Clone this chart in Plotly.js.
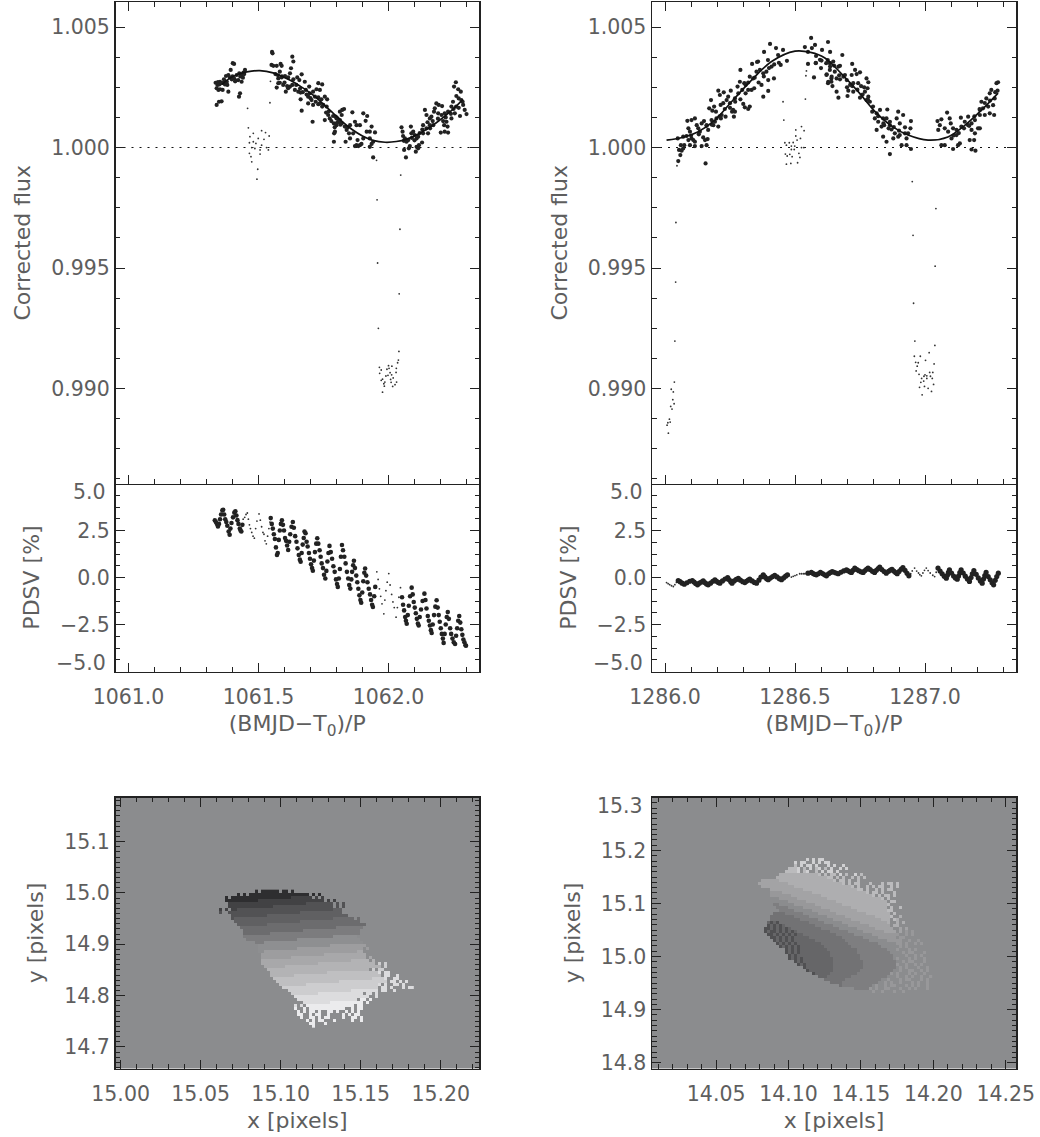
<!DOCTYPE html>
<html><head><meta charset="utf-8">
<script src="https://cdn.plot.ly/plotly-3.0.1.min.js"></script>
<style>html,body{margin:0;padding:0;background:#fff}</style></head>
<body><div id="chart" style="width:1040px;height:1137px"></div>
<script>
const cycleL = 1061, cycleR = 1286;
// [phase - cycle, (flux-1) in parts per thousand]
const fluxBigL = [[.335,2.69],[.344,2.72],[.352,2.73],[.342,2.60],[.349,2.62],[.358,2.67],[.365,2.69],[.339,2.46],[.346,2.39],[.352,2.42],[.362,2.39],[.371,2.62],[.378,2.73],[.367,2.83],[.375,2.97],[.384,3.01],[.393,3.22],[.401,3.50],[.406,3.47],[.390,2.91],[.397,2.83],[.406,2.87],[.416,3.01],[.426,3.08],[.435,3.01],[.442,3.11],[.448,3.22],[.413,2.78],[.422,2.80],[.435,2.73],[.384,2.32],[.429,2.25],[.425,2.11],[.339,1.77],[.348,1.90],[.358,1.92],
[.552,3.97],[.554,3.91],[.630,3.77],[.634,3.57],[.625,3.29],[.621,3.08],[.550,3.43],[.557,3.39],[.570,3.39],[.585,3.47],[.589,3.39],[.582,3.15],[.576,2.87],[.589,2.91],[.602,2.97],[.614,2.91],[.634,2.83],[.649,2.91],[.666,3.04],[.657,2.80],[.576,2.67],[.582,2.69],[.570,2.49],[.595,2.60],[.605,2.32],[.614,2.46],[.621,2.53],[.640,2.39],[.653,2.32],[.662,2.28],[.678,2.73],[.695,2.53],[.682,2.39],[.697,2.25],[.710,2.32],[.723,2.42],[.736,2.39],[.730,2.67],[.745,2.62],[.662,2.00],[.691,2.11],[.704,1.97],[.717,2.11],[.730,2.08],[.742,2.00],[.755,2.11],[.764,2.00],[.736,1.83],[.749,1.77],[.762,1.70],[.691,1.83],[.710,1.77],[.666,1.53],[.708,1.07],[.755,1.14],[.768,1.35],[.774,1.21],[.787,1.31],[.800,1.21],[.813,1.49],[.806,1.07],[.793,.84],[.791,.59],[.790,.24],
[.797,1.28],[.804,1.21],[.813,1.14],[.820,1.35],[.822,1.56],[.829,1.60],[.809,1.07],[.820,1.00],[.800,.93],[.794,.66],[.832,.87],[.843,.84],[.852,.93],[.861,1.46],[.871,1.07],[.877,.93],[.890,.93],[.903,1.42],[.918,1.31],[.912,1.11],[.848,.59],[.839,.73],[.835,.24],[.852,.38],[.864,.59],[.881,.31],[.871,.06],[.877,.10],[.884,.06],[.890,.10],[.896,.15],[.903,.38],[.916,.66],[.928,.66],[.935,.87],[.948,.63],[.928,.38],[.941,.24],[.935,.15],[.928,.03],[.941,-.41],
[1.050,.84],[1.054,.66],[1.056,.48],[1.059,.28],[1.063,.38],[1.069,.24],[1.076,.31],[1.086,.87],[1.088,.59],[1.095,.66],[1.101,.52],[1.082,.06],[1.078,-.03],[1.060,-.10],[1.067,-.41],[1.108,.38],[1.114,.45],[1.129,.21],[1.117,.10],[1.108,.03],[1.105,-.17],[1.114,-.03],[1.133,.93],[1.140,1.56],[1.146,1.35],[1.159,1.21],[1.165,1.28],[1.178,1.63],[1.184,1.83],[1.193,1.77],[1.206,1.72],[1.175,1.49],[1.191,1.42],[1.204,1.35],[1.216,1.42],[1.229,1.49],[1.242,1.70],[1.248,1.90],[1.259,2.71],[1.252,2.53],[1.268,2.42],[1.278,2.32],[1.261,2.14],[1.270,2.04],[1.280,1.97],[1.287,1.77],[1.293,1.56],[1.300,1.39],[1.275,1.31],[1.255,1.42],[1.242,1.21],[1.223,1.07],[1.214,.93],[1.227,.87],[1.216,.66],[1.201,.62],[1.229,.62],[1.159,.93],[1.146,.80],[1.133,.59],[1.152,.59],[1.172,.93],
[.37,2.75],[.38,2.6],[.40,2.95],[.41,2.75],[.43,2.95],[.44,2.9],[.445,3.05],[.565,3.05],[.575,3.0],[.59,2.95],[.60,2.7],[.61,2.55],[.63,2.6],[.645,2.6],[.66,2.45],[.67,2.3],[.685,2.2],[.70,2.05],[.72,1.9],[.73,1.8],[.745,1.7],[.76,1.45],[.77,1.5],[.78,1.1],[.79,1.0],[.80,1.0],[.815,.95],[1.09,.4],[1.10,.3],[1.12,.6],[1.13,.75],[1.15,1.05],[1.16,.8],[1.17,1.1],[1.19,1.2],[1.21,1.1],[1.22,1.25],[1.24,1.4],[1.25,1.6],[1.26,1.7],[1.27,1.65],[1.285,1.9]];
const fluxSmallL = [[.458,1.63],[.546,2.75],[.544,1.86],[.461,.82],[.480,.59],[.512,.70],[.527,.62],[.541,.48],[.467,.45],[.499,.38],[.521,.34],[.465,.20],[.480,.24],[.490,.17],[.512,.10],[.531,.00],[.474,.00],[.486,-.04],[.506,-.10],[.538,-.10],[.465,-.24],[.506,-.27],[.471,-.38],[.474,-.59],[.497,-.9],[.494,-1.31],
[.954,-.53],[1.047,-1.14],[.956,-2.17],[1.044,-3.39],[.958,-4.79],[1.041,-6.07],[.961,-7.50],[1.040,-8.46],[1.038,-8.82],[1.035,-8.93],[1.000,-9.05],[1.013,-9.07],[.965,-9.12],[.972,-9.23],[.994,-9.20],[1.002,-9.16],[1.030,-9.16],[.966,-9.37],[1.006,-9.34],[1.029,-9.33],[.998,-9.45],[.990,-9.48],[1.012,-9.43],[.977,-9.61],[.972,-9.66],[1.008,-9.62],[1.018,-9.56],[.986,-9.73],[1.010,-9.74],[1.031,-9.73],[.982,-9.80],[1.025,-9.84],[.984,-9.90],[1.016,-9.91],[.977,-10.15]];
const modelL = [[.36,2.62],[.39,2.88],[.42,3.03],[.455,3.14],[.505,3.19],[.556,3.10],[.62,2.80],[.66,2.55],[.70,2.26],[.74,1.90],[.78,1.50],[.82,1.10],[.86,.75],[.90,.48],[.94,.30],[.987,.22],[1.03,.25],[1.07,.35],[1.113,.55],[1.18,1.0],[1.244,1.55],[1.286,2.0]];
const fluxBigR = [[.051,-.56],[.059,-.31],[.054,-.10],[.064,-.13],[.070,-.04],[.061,.10],[.074,.10],[.049,.38],[.070,.45],[.083,.48],[.090,.31],[.102,.38],[.115,.24],[.096,.10],[.115,.06],[.109,.31],[.090,.80],[.096,.66],[.086,1.11],[.102,1.14],[.115,1.21],[.122,.93],[.128,.80],[.141,1.00],[.150,1.10],[.160,.93],[.134,.66],[.166,.73],[.147,.42],[.154,.31],[.164,.35],[.141,.06],[.160,.10],[.179,1.14],[.192,1.07],[.198,1.21],[.186,.93],[.205,.87],[.170,1.63],[.182,1.53],[.196,1.49],[.189,1.70],[.177,1.97],[.214,1.77],[.224,1.84],[.237,1.97],[.243,2.11],[.205,2.36],[.211,2.18],[.226,2.29],[.253,2.36],[.218,1.35],[.233,1.28],[.215,1.21],[.262,1.56],[.258,1.49],[.269,1.49],[.265,1.28],[.250,1.84],[.269,2.04],[.282,2.25],[.279,2.53],[.288,2.73],[.305,2.67],[.297,2.39],[.310,2.25],[.320,2.39],[.333,2.39],[.343,2.46],[.326,2.94],[.339,2.87],[.352,3.15],[.365,3.22],[.378,3.08],[.390,3.15],[.290,3.22],[.335,3.47],[.358,3.57],[.397,2.80],[.371,2.60],[.378,2.11],[.397,2.35],[.419,2.87],[.410,3.36],[.438,3.52],[.445,3.43],[.301,1.81],[.307,1.67],[.326,1.70],[.320,1.60],[.156,-.66],
[.354,3.55],[.381,3.97],[.404,4.30],[.427,4.13],[.454,4.05],[.396,3.63],[.435,3.84],[.469,3.6],
[.550,3.47],[.580,3.52],[.573,2.91],[.602,3.61],[.621,3.01],[.634,3.22],[.640,2.87],[.627,2.67],[.640,2.73],[.634,3.50],[.653,3.15],[.562,4.55],[.577,4.26],[.55,3.97],[.604,4.05],[.627,4.38],[.596,3.64],[.581,3.80],[.635,3.97],[.565,4.13],[.538,4.17],
[.682,3.84],[.647,3.57],[.626,3.63],[.635,3.36],[.667,3.36],[.673,3.39],[.720,3.47],[.731,3.22],[.750,3.12],[.737,3.05],[.718,3.01],[.692,3.01],[.686,2.94],[.699,2.80],[.712,2.60],[.724,2.67],[.622,3.04],[.641,2.94],[.660,2.87],[.673,2.83],[.628,2.73],[.644,2.55],[.660,2.32],[.667,2.07],[.702,2.14],[.705,2.36],[.724,2.32],[.743,2.67],[.754,2.55],[.775,2.87],[.782,2.71],[.766,2.50],[.779,2.46],[.769,2.32],[.750,2.07],[.782,2.11],[.775,1.97],[.788,1.90],[.797,1.49],[.814,1.42],[.807,1.21],[.820,1.07],[.827,1.56],[.855,1.58],[.839,1.21],[.852,1.21],[.865,1.07],[.833,.87],[.814,.73],[.843,.93],[.865,.93],[.871,.75],[.897,1.49],[.916,1.35],[.891,1.21],[.903,1.00],[.923,.84],[.946,1.10],[.884,.59],[.903,.52],[.923,.59],[.935,.59],[.944,.80],[.839,.45],[.852,.24],[.878,.38],[.897,.45],[.910,.10],[.929,.38],[.929,.10],[.946,-.06],[.865,-.27],
[1.048,1.10],[1.063,1.17],[1.057,.93],[1.051,.73],[1.085,1.45],[1.095,1.21],[1.099,1.00],[1.076,.80],[1.089,.66],[1.108,.80],[1.121,.73],[1.140,.87],[1.138,1.24],[1.166,1.28],[1.153,1.07],[1.166,.93],[1.121,.52],[1.102,.38],[1.134,.17],[1.063,.10],[1.076,.10],[1.108,-.06],[1.127,.10],[1.179,.73],[1.192,.59],[1.204,.80],[1.172,.31],[1.189,.31],[1.179,-.08],[1.194,-.13],[1.211,1.56],[1.223,1.63],[1.217,1.90],[1.236,2.04],[1.249,2.25],[1.255,2.39],[1.275,2.67],[1.281,2.71],[1.279,2.36],[1.268,2.04],[1.262,1.76],[1.243,1.70],[1.230,1.35],[1.249,1.42],[1.266,1.35],[1.211,.80],[1.179,1.00],[1.192,1.14],[1.211,1.35],
[.10,.5],[.13,.55],[.16,.9],[.18,.95],[.21,1.3],[.23,1.6],[.25,1.65],[.27,1.9],[.29,2.0],[.31,2.6],[.32,2.7],[.345,2.9],[.36,2.7],[.38,2.95],[.40,3.3],[.42,3.45],[.58,3.5],[.60,3.3],[.62,3.5],[.65,3.4],[.67,3.0],[.70,2.5],[.72,2.55],[.74,2.4],[.76,2.2],[.78,2.0],[.80,1.7],[.82,1.3],[.84,1.0],[.86,.8],[.88,.85],[.90,.7],[1.11,.5],[1.13,.6],[1.15,.8],[1.17,.9],[1.19,1.3],[1.21,1.6],[1.23,1.85],[1.25,1.95],[1.27,2.3]];
const fluxSmallR = [[.042,-3.11],[.041,-5.58],[.038,-8.03],[.036,-9.73],[.024,-10.03],[.032,-10.14],[.030,-10.46],[.035,-10.63],[.022,-10.74],[.027,-10.85],[.017,-11.27],[.011,-11.42],[.020,-11.39],[.008,-11.52],[.013,-11.85],[.046,-.755],
[.951,-1.41],[1.042,-2.53],[.954,-3.64],[1.039,-4.92],[.956,-6.46],[.961,-8.03],[1.038,-8.21],[1.016,-8.51],[.959,-8.66],[.982,-8.66],[1.002,-8.83],[1.035,-8.98],[.964,-8.91],[.974,-8.93],[.970,-9.07],[.966,-9.27],[1.018,-9.33],[1.030,-9.33],[.977,-9.41],[1.000,-9.43],[1.007,-9.47],[.996,-9.49],[.987,-9.58],[1.021,-9.49],[1.007,-9.58],[1.028,-9.58],[.995,-9.69],[.984,-9.74],[1.033,-9.83],[.979,-9.95],[.998,-9.91],[1.012,-9.99],[1.025,-10.12],[.989,-10.26],
[.454,1.90],[.457,1.14],[.540,2.01],[.525,.87],[.503,.73],[.535,.70],[.503,.48],[.521,.38],[.508,.31],[.461,.20],[.478,.20],[.493,.21],[.467,.10],[.486,.06],[.499,.06],[.525,.00],[.534,.00],[.486,-.08],[.497,-.08],[.463,-.27],[.480,-.28],[.489,-.38],[.470,-.35],[.515,-.24],[.519,-.41],[.467,-.69],[.484,-.66],[.510,-.63],[.544,3.18],[.542,2.98]];
const modelR = [[.006,.31],[.07,.43],[.128,.66],[.192,1.14],[.256,1.9],[.333,2.8],[.41,3.57],[.5,4.0],[.56,3.95],[.615,3.72],[.68,3.05],[.743,2.32],[.808,1.49],[.872,.89],[.935,.52],[1.012,.31],[1.088,.44],[1.154,.93],[1.218,1.56],[1.281,2.26]];
// [phase - cycle, PDSV %]
const pdsvBigL = [[.332,3.04],[.336,2.95],[.340,2.85],[.344,2.71],[.348,2.85],[.352,3.1],[.356,3.35],[.361,3.57],[.364,3.6],[.368,3.35],[.372,3.1],[.376,2.95],[.380,2.75],[.385,2.45],[.389,2.27],[.392,2.6],[.396,2.9],[.402,3.2],[.407,3.45],[.411,3.52],[.415,3.3],[.419,3.05],[.423,2.85],[.428,2.6],[.431,2.5],[.434,2.45],[.438,2.8],
[.547,3.16],[.551,2.85],[.555,2.6],[.559,2.3],[.563,2.05],[.567,1.6],[.571,1.2],[.574,1.3],[.578,2.0],[.582,2.5],[.586,2.85],[.590,3.04],[.594,2.8],[.598,2.5],[.602,2.1],[.606,1.95],[.610,1.7],[.614,1.46],[.618,1.9],[.622,2.3],[.627,2.7],[.632,2.95],[.636,2.65],[.641,2.2],[.646,1.9],[.650,1.55],[.655,1.2],[.659,.95],[.662,.84],[.666,1.3],[.670,1.75],[.674,2.1],[.677,2.45],[.681,2.35],[.685,1.9],[.689,1.65],[.694,1.3],[.698,1.0],[.702,.7],[.706,.5],[.709,.36],[.713,.9],[.717,1.35],[.722,1.8],[.726,2.09],[.730,1.8],[.735,1.45],[.739,1.1],[.743,.75],[.748,.5],[.752,.15],[.757,-.05],[.761,.35],[.765,.85],[.769,1.3],[.773,1.68],[.778,1.35],[.783,1.0],[.788,.6],[.793,.3],[.798,-.1],[.802,-.35],[.805,-.50],[.809,-.05],[.813,.45],[.817,1.1],[.821,1.73],[.825,1.45],[.830,1.1],[.835,.75],[.840,.3],[.845,-.05],[.849,-.4],[.853,-.59],[.857,-.1],[.860,.3],[.864,.65],[.867,.89],[.871,.5],[.876,.1],[.880,-.25],[.884,-.6],[.888,-.95],[.892,-1.2],[.895,-1.34],[.899,-.8],[.903,-.2],[.907,.25],[.910,.48],[.914,.1],[.919,-.25],[.924,-.6],[.929,-.9],[.933,-1.2],[.937,-1.45],[.940,-1.57],[.945,-1.0],[.949,-.5],
[1.052,-1.05],[1.056,-1.45],[1.060,-1.75],[1.064,-2.1],[1.067,-2.3],[1.070,-2.46],[1.074,-2.0],[1.078,-1.5],[1.083,-1.0],[1.089,-.54],[1.093,-.9],[1.097,-1.3],[1.101,-1.6],[1.105,-1.9],[1.109,-2.2],[1.113,-2.45],[1.116,-2.55],[1.120,-2.1],[1.125,-1.7],[1.131,-1.25],[1.138,-.86],[1.142,-1.2],[1.146,-1.65],[1.151,-2.05],[1.155,-2.3],[1.159,-2.55],[1.163,-2.8],[1.166,-2.95],[1.170,-2.5],[1.175,-2.0],[1.180,-1.55],[1.185,-1.21],[1.189,-1.6],[1.193,-2.0],[1.197,-2.35],[1.201,-2.7],[1.205,-3.0],[1.209,-3.25],[1.212,-3.48],[1.216,-3.0],[1.220,-2.5],[1.224,-2.1],[1.228,-1.84],[1.232,-2.2],[1.237,-2.7],[1.241,-3.0],[1.246,-3.25],[1.251,-3.45],[1.256,-3.54],[1.260,-3.1],[1.264,-2.7],[1.268,-2.3],[1.272,-2.05],[1.276,-2.4],[1.280,-2.75],[1.284,-3.05],[1.288,-3.3],[1.292,-3.45],[1.296,-3.6],[1.298,-3.63]];
const pdsvSmallL = [[.441,3.1],[.447,3.2],[.452,3.35],[.457,3.43],[.461,3.1],[.465,2.8],[.469,2.6],[.474,2.4],[.479,2.2],[.484,2.09],[.489,2.6],[.494,3.0],[.502,3.38],[.507,3.05],[.512,2.7],[.517,2.4],[.521,2.3],[.525,1.95],[.530,1.79],[.535,2.2],[.540,2.6],[.544,2.95],
[.955,.30],[.960,-.1],[.965,-.6],[.970,-1.0],[.975,-1.4],[.982,-1.93],[.986,-1.2],[.990,-.7],[.995,-.25],[1.001,.21],[1.006,-.4],[1.012,-.9],[1.017,-1.3],[1.022,-1.6],[1.029,-2.11],[1.034,-1.6],[1.040,-1.05],[1.046,-.54]];
const pdsvBigR = [[.051,-.16],[.058,-.22],[.066,-.3],[.074,-.36],[.084,-.28],[.095,-.2],[.105,-.16],[.112,-.24],[.118,-.32],[.125,-.39],[.132,-.3],[.140,-.24],[.147,-.18],[.153,-.27],[.160,-.34],[.166,-.39],[.175,-.3],[.184,-.2],[.192,-.12],[.198,-.2],[.205,-.26],[.211,-.30],[.221,-.18],[.231,-.08],[.241,.00],[.247,-.12],[.253,-.22],[.258,-.30],[.266,-.18],[.274,-.1],[.282,-.04],[.290,-.14],[.299,-.22],[.307,-.27],[.313,-.2],[.320,-.14],[.326,-.09],[.335,-.18],[.344,-.26],[.352,-.30],[.361,-.14],[.369,.02],[.378,.14],[.384,.03],[.391,-.06],[.397,-.12],[.405,-.03],[.414,.05],[.422,.11],[.431,.03],[.440,-.06],[.448,-.12],[.456,-.02],[.464,.07],[.471,.14],
[.55,.23],[.563,.27],[.570,.21],[.576,.17],[.582,.14],[.589,.2],[.598,.27],[.606,.21],[.614,.14],[.621,.09],[.629,.2],[.636,.26],[.643,.32],[.650,.28],[.658,.24],[.666,.20],[.676,.28],[.687,.35],[.698,.41],[.704,.36],[.711,.3],[.717,.27],[.723,.38],[.730,.50],[.738,.42],[.746,.36],[.754,.3],[.762,.27],[.768,.36],[.775,.44],[.781,.50],[.789,.42],[.798,.33],[.806,.27],[.813,.38],[.820,.48],[.826,.55],[.834,.42],[.843,.32],[.851,.23],[.860,.33],[.867,.4],[.873,.44],[.880,.34],[.887,.26],[.893,.20],[.900,.32],[.908,.44],[.915,.53],[.923,.38],[.931,.22],[.938,.09],
[1.05,.50],[1.058,.34],[1.066,.2],[1.074,.06],[1.082,-.04],[1.086,.12],[1.090,.27],[1.094,.41],[1.102,.24],[1.110,.08],[1.117,-.02],[1.124,-.09],[1.129,.08],[1.134,.26],[1.139,.41],[1.147,.24],[1.155,.07],[1.163,-.08],[1.171,-.21],[1.177,.0],[1.182,.2],[1.188,.37],[1.197,.17],[1.205,-.02],[1.213,-.18],[1.220,-.30],[1.225,-.08],[1.230,.1],[1.235,.27],[1.243,.05],[1.251,-.12],[1.258,-.28],[1.264,-.39],[1.270,-.15],[1.276,.05],[1.282,.23]];
const pdsvSmallR = [[.006,-.27],[.012,-.33],[.018,-.38],[.025,-.44],[.032,-.48],[.038,-.38],[.044,-.26],[.478,.1],[.486,.02],[.493,.06],[.500,.1],[.507,.14],[.518,.20],[.525,.2],[.532,.2],[.538,.20],[.544,.22],[.945,.2],[.951,.35],[.96,.50],[.968,.34],[.975,.24],[.98,.15],[.986,.09],[.992,.24],[.998,.38],[1.005,.50],[1.012,.37],[1.02,.24],[1.03,.12],[1.037,.05],[1.043,.28]];
// brightness cells; run-length rows "count:level", literal speckle otherwise, "." = empty
const heatRowsL = ["13:. 0.000000.00.0","7:. 0.0. 20:0 .0.0","3:. 0.0 19:0 7:1 .1.1","3:. 11:0 22:1 .1.1","4:. 26:1 9:2 .2.2","4:. 15:1 20:2 .2.2",".1.1.11 32:2 3:3",".2..2 23:2 14:3","5:. 12:2 27:3","5:. 2 33:3 7:4 .4","6:. 22:3 20:4","7:. 10:3 33:4","8:. 32:4 9:5","9:. 20:4 19:5","9:. 9:4 30:5","9:. 30:5 8:6","10:. 17:5 21:6","13:. 3:5 33:6","14:. 24:6 12:7","14:. 13:6 22:7 .7","14:. 2:6 31:7 2:8","15:. 21:7 14:8","15:. 10:7 25:8 .8","15:. 30:8 6:9 .9","15:. 19:8 19:9 .b.b","16:. 7:8 32:9 .b","17:. 34:9 .b.bb","18:. 19:9 17:a c.cc.","18:. 8:9 29:a .cc..c","19:. 33:a 4:b c..cc","20:. 21:a 16:b .cc.c.c","21:. 9:a 24:b c.c..cc.c","22:. 32:b .cc.c...c.cc","24:. 21:b 8:c c.cc..c","25:. 9:b 15:c .cc.c","26:. 24:c c..c","27:. 20:c .dd.d","28:. .c 8:c 10:d d.d","26:. c.c. 16:d .dd","26:. d..d.d 10:d d..d.dd","27:. d.d.dd.d..dd.d..d.d.d","27:. dd..d.dd..d....d.d.dd","28:. d..dd.d.dd....d..dd.d","30:. d.d.dd...d.....d..d","31:. dd...d","32:. d"];
const heatRowsR = ["17:. 9.9.99","13:. 9.99..9.9.99","13:. 8.9.99.9...9.9..9","11:. 888 9.8.9.89.8.9..9.9","10:. 4:8 9.89..8.9.99.9","8:. 13:7 8.8.88.9.8..9.8","7:. 17:7 88.8.8..8.8.8","2:. 6:6 18:7 8.88.8..8","1:. 10:6 18:7 8.8.88...8. ..8.88.8","2:. 11:6 19:7 8.8..8.8.88..8.8","5:. 11:6 18:7 88.8..8.8.88","5:. 4:5 10:6 18:7 8.88.8...8","5:. 7:5 10:6 17:7 8.8.88.8","5:. 3:4 6:5 10:6 18:7 8.8","5:. 6:4 6:5 10:6 17:7 .88","6:. 2:3 5:4 7:5 9:6 15:7 8.","7:. 4:3 5:4 6:5 10:6 12:7 .8..8","8:. 5:3 6:4 6:5 9:6 10:7 88","6:. 4:2 6:3 5:4 6:5 10:6 8:7 .8","5:. 8:2 5:3 6:4 6:5 10:6 5:7 8..7","5:. 10:2 6:3 5:4 6:5 10:6 3:7 .87","4:. 1010 10:2 5:3 6:4 6:5 9:6 7..7.7","4:. 010101 10:2 6:3 5:4 7:5 7:6 .77","3:. 001010101 10:2 6:3 6:4 6:5 5:6 6..6.6","3:. 01001010101 11:2 6:3 5:4 7:5 4:6 .6.5.5","4:. 001010101011 11:2 6:3 6:4 8:5 5..5.5","5:. 0010101011111 11:2 7:3 5:4 6:5 .55","6:. 01010101111111 10:2 8:3 6:4 4:5 5..5..5","7:. 010101011111111 9:2 10:3 6:4 2:5 .5..5.5","8:. 0101010 8:1 9:2 10:3 5:4 .5.5..","10:. 01010 9:1 10:2 10:3 3:4 5...5.5","10:. 01010 10:1 9:2 11:3 3:4 .5.55...5","11:. 0101 10:1 10:2 11:3 2:4 ..5..5.5","11:. 01010 10:1 9:2 11:3 .5...5.5..5","13:. 0101 9:1 10:2 11:3 ..5.55...5","14:. 010 9:1 10:2 11:3 5..5..5.5..","16:. 01 8:1 10:2 11:3 .5.5...5..5","17:. 01 7:1 9:2 11:3 ..5..55..5.5","19:. 0 5:1 9:2 11:3 5.5...5.5..5.","21:. 3:1 8:2 12:3 2:4 .5..5.5..5..5","23:. 7:2 12:3 2:4 5...5.55...5.5","25:. 4:2 12:3 ..5.5..5...5.5..5","28:. 2 10:3 .5..5.55...5.5.5..5","33:. 5:3 5.5..55...5..5.5...5","38:. .5..5...5..5"];
const heatGreysL = ["#2e2e30","#424244","#525254","#606062","#6c6c6e","#7c7c7e","#8e8f91","#9d9d9f","#a8a8aa","#b3b3b5","#bfbfc1","#cdcdcf","#dcdcde","#ebebed"];
const heatGreysR = ["#505052","#666668","#727274","#7e7e80","#8b8c8e","#98989a","#a3a3a5","#aeaeb0","#bbbbbd","#d0d0d2"];
const heatGrid = {L:{x0:15.0604,dx:.001875,y0:14.7407,dy:.00584}, R:{x0:14.078,dx:.00207,y0:14.934,dy:.00566}};
const panelBg = "#8b8c8e";

const INK="#222", TXT="#5e5e5e", FONT="'DejaVu Sans',sans-serif", FS=20.5, W=1040, H=1137;
const decode = rows => rows.map(r => r.split(" ").flatMap(t => t.includes(":") ? Array(+t.split(":")[0]).fill(t.split(":")[1]) : t.split("")))
  .map(r => r.map(c => c==="." ? null : parseInt(c,16))).reverse();
const xs=(a,c)=>a.map(p=>c+p[0]), ppt=a=>a.map(p=>1+p[1]/1000), vals=a=>a.map(p=>p[1]);
const dots=(x,y,size,ax,ay)=>({type:"scatter",mode:"markers",x,y,xaxis:ax,yaxis:ay,marker:{size,color:size>3?"#222":"#333"},hoverinfo:"skip"});
const line=(x,y,ax,ay,extra)=>({type:"scatter",mode:"lines",x,y,xaxis:ax,yaxis:ay,line:Object.assign({color:"#111",width:1.7},extra),hoverinfo:"skip"});
const heat=(rows,g,greys,ax,ay)=>({type:"heatmap",z:decode(rows),x0:g.x0,dx:g.dx,y0:g.y0,dy:g.dy,zmin:0,zmax:greys.length-1,showscale:false,zsmooth:false,hoverongaps:false,hoverinfo:"skip",
  colorscale:greys.map((c,i)=>[i/(greys.length-1),c]),xaxis:ax,yaxis:ay});

const traces=[
 heat(heatRowsL,heatGrid.L,heatGreysL,"x3","y3"),
 heat(heatRowsR,heatGrid.R,heatGreysR,"x6","y6"),
 line([1060.95,1062.348],[1,1],"x","y",{dash:"2px,6px",width:1.1}),
 line([1285.95,1287.35],[1,1],"x4","y4",{dash:"2px,6px",width:1.1}),
 dots(xs(fluxSmallL,cycleL),ppt(fluxSmallL),1.8,"x","y"),
 dots(xs(fluxBigL,cycleL),ppt(fluxBigL),4.2,"x","y"),
 line(xs(modelL,cycleL),ppt(modelL),"x","y",{shape:"spline"}),
 dots(xs(pdsvSmallL,cycleL),vals(pdsvSmallL),1.8,"x2","y2"),
 dots(xs(pdsvBigL,cycleL),vals(pdsvBigL),4.6,"x2","y2"),
 dots(xs(fluxSmallR,cycleR),ppt(fluxSmallR),1.8,"x4","y4"),
 dots(xs(fluxBigR,cycleR),ppt(fluxBigR),4.2,"x4","y4"),
 line(xs(modelR,cycleR),ppt(modelR),"x4","y4",{shape:"spline"}),
 dots(xs(pdsvSmallR,cycleR),vals(pdsvSmallR),1.8,"x5","y5"),
 dots(xs(pdsvBigR,cycleR),vals(pdsvBigR),5.2,"x5","y5"),
];
const font={family:FONT,size:FS,color:TXT}, titleFont={family:FONT,size:22,color:TXT};
function ax(o){
  const a={showgrid:false,zeroline:false,showline:true,linecolor:INK,linewidth:1.5,ticks:"inside",ticklen:9,tickwidth:1,tickcolor:INK,
    mirror:o.mirror===undefined?"allticks":o.mirror,tickfont:font,range:o.range,domain:o.domain,anchor:o.anchor,dtick:o.dtick,tick0:o.tick0,tickformat:o.fmt,
    showticklabels:o.labels!==false,automargin:false,fixedrange:true,ticklabelstandoff:o.lab||0,
    minor:{ticks:"inside",ticklen:4.5,tickwidth:1,tickcolor:INK,dtick:o.minor,tick0:o.tick0,showgrid:false}};
  if(o.tickvals){a.tickmode="array";a.tickvals=o.tickvals;delete a.dtick;}
  if(o.title)a.title={text:o.title,font:titleFont,standoff:o.standoff};
  return a;
}
const dx=(a,b)=>[a/W,b/W], dy=(t,b)=>[1-b/H,1-t/H];
const L=dx(115.5,479), R=dx(652,1016), F=dy(2,483.5), P=dy(483.5,671.5), M=dy(797.5,1068.5);
const YS=14, XS=8, XL=6;
const layout={width:W,height:H,margin:{l:0,r:0,t:0,b:0},paper_bgcolor:"#fff",plot_bgcolor:"#fff",showlegend:false,font:font,
 xaxis:ax({range:[1060.95,1062.348],domain:L,anchor:"y",dtick:.5,tick0:1061,minor:.1,labels:false}),
 yaxis:ax({range:[.98606,1.00604],domain:F,anchor:"x",dtick:.005,tick0:1,minor:.00125,fmt:".3f",title:"Corrected flux",standoff:YS}),
 xaxis2:ax({range:[1060.95,1062.348],domain:L,anchor:"y2",dtick:.5,tick0:1061,minor:.1,fmt:".1f",title:"(BMJD−T<sub>0</sub>)/P",mirror:false,lab:XL,standoff:XS}),
 yaxis2:ax({range:[-5,5],domain:P,anchor:"x2",tickvals:[-2.5,0,2.5],dtick:2.5,tick0:0,minor:.625,fmt:".1f",title:"PDSV [%]",standoff:YS}),
 xaxis3:ax({range:[14.9968,15.2239],domain:L,anchor:"y3",dtick:.05,tick0:15,minor:.01,fmt:".2f",title:"x [pixels]",lab:XL,standoff:XS}),
 yaxis3:ax({range:[14.658,15.186],domain:M,anchor:"x3",dtick:.1,tick0:15,minor:.01,fmt:".1f",title:"y [pixels]",standoff:YS}),
 xaxis4:ax({range:[1285.95,1287.35],domain:R,anchor:"y4",dtick:.5,tick0:1286,minor:.1,labels:false}),
 yaxis4:ax({range:[.98606,1.00604],domain:F,anchor:"x4",dtick:.005,tick0:1,minor:.00125,fmt:".3f",title:"Corrected flux",standoff:YS}),
 xaxis5:ax({range:[1285.95,1287.35],domain:R,anchor:"y5",dtick:.5,tick0:1286,minor:.1,fmt:".1f",title:"(BMJD−T<sub>0</sub>)/P",mirror:false,lab:XL,standoff:XS}),
 yaxis5:ax({range:[-5,5],domain:P,anchor:"x5",tickvals:[-2.5,0,2.5],dtick:2.5,tick0:0,minor:.625,fmt:".1f",title:"PDSV [%]",standoff:YS}),
 xaxis6:ax({range:[14.0057,14.2571],domain:R,anchor:"y6",dtick:.05,tick0:14,minor:.01,fmt:".2f",title:"x [pixels]",lab:XL,standoff:XS}),
 yaxis6:ax({range:[14.789,15.3],domain:M,anchor:"x6",tickvals:[14.8,14.9,15.0,15.1,15.2],dtick:.1,tick0:15,minor:.01,fmt:".1f",title:"y [pixels]",standoff:YS}),
 shapes:[["x3","y3"],["x6","y6"]].map(([a,b])=>({type:"rect",xref:a+" domain",yref:b+" domain",x0:0,x1:1,y0:0,y1:1,fillcolor:panelBg,line:{width:0},layer:"below"})),
 annotations:[
  {t:"5.0",x:107,yr:"y2",y:4.55},{t:"−5.0",x:107,yr:"y2",y:-4.55},
  {t:"5.0",x:643.5,yr:"y5",y:4.55},{t:"−5.0",x:643.5,yr:"y5",y:-4.55},
  {t:"15.3",x:643.5,yr:"y6",y:15.284}
 ].map(a=>({text:a.t,xref:"paper",x:a.x/W,xanchor:"right",yref:a.yr,y:a.y,yanchor:"middle",showarrow:false,font:font,borderpad:0}))
};
Plotly.newPlot("chart",traces,layout,{staticPlot:true,displayModeBar:false});
</script></body></html>
